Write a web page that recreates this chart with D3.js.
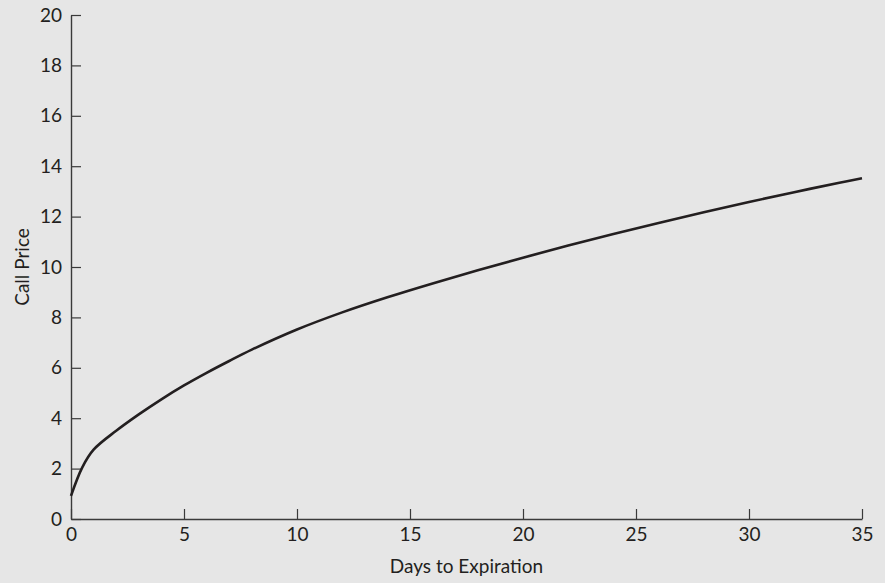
<!DOCTYPE html>
<html>
<head>
<meta charset="utf-8">
<script src="https://cdn.jsdelivr.net/npm/d3@7"></script>
<style>
  html, body { margin: 0; padding: 0; background: #e6e6e6; }
  svg { display: block; }
  text { font-family: Lato, "Open Sans", sans-serif; fill: #231f20; }
</style>
</head>
<body>
<svg id="chart" width="885" height="583"></svg>
<script>
// Data
const days  = [0, 0.5, 1, 2, 3, 4, 5, 6, 7, 8, 10, 12, 14, 16, 18, 20, 22, 24, 26, 28, 30, 32, 34, 35];
const price = [0.92, 2.05, 2.75, 3.5, 4.15, 4.75, 5.3, 5.8, 6.27, 6.72, 7.52, 8.2, 8.8, 9.35, 9.87, 10.37, 10.85, 11.31, 11.75, 12.17, 12.58, 12.97, 13.34, 13.52];
const xTicks = [0, 5, 10, 15, 20, 25, 30, 35];
const yTicks = [0, 2, 4, 6, 8, 10, 12, 14, 16, 18, 20];
const xTitle = "Days to Expiration";
const yTitle = "Call Price";

const svg = d3.select("#chart");
const x = d3.scaleLinear().domain([0, 35]).range([71, 862]);
const y = d3.scaleLinear().domain([0, 20]).range([519, 15]);

const axisColor = "#3a3a3a";
const fontSize = 19;

const gx = svg.append("g")
  .attr("transform", `translate(0,${y(0)})`)
  .call(d3.axisBottom(x).tickValues(xTicks).tickFormat(d3.format("d"))
        .tickSizeInner(-10).tickSizeOuter(0).tickPadding(9));
const gy = svg.append("g")
  .attr("transform", `translate(${x(0)},0)`)
  .call(d3.axisLeft(y).tickValues(yTicks).tickFormat(d3.format("d"))
        .tickSizeInner(-10).tickSizeOuter(0).tickPadding(9));

[gx, gy].forEach(g => {
  g.select(".domain").attr("stroke", axisColor).attr("stroke-width", 1.4);
  g.selectAll(".tick line").attr("stroke", axisColor).attr("stroke-width", 1.2);
  g.selectAll(".tick text").attr("font-size", fontSize).attr("fill", "#231f20")
    .attr("font-family", "Lato, 'Open Sans', sans-serif");
});

const pts = days.map((d, i) => [d, price[i]]);
const line = d3.line().x(d => x(d[0])).y(d => y(d[1])).curve(d3.curveCatmullRom.alpha(0.5));
svg.append("path")
  .attr("d", line(pts))
  .attr("fill", "none")
  .attr("stroke", "#231f20")
  .attr("stroke-width", 2.6);

svg.append("text")
  .attr("x", (x(0) + x(35)) / 2)
  .attr("y", 573)
  .attr("text-anchor", "middle")
  .attr("font-size", fontSize)
  .text(xTitle);

svg.append("text")
  .attr("transform", `translate(29,${(y(0) + y(20)) / 2}) rotate(-90)`)
  .attr("text-anchor", "middle")
  .attr("font-size", fontSize)
  .text(yTitle);
</script>
</body>
</html>
